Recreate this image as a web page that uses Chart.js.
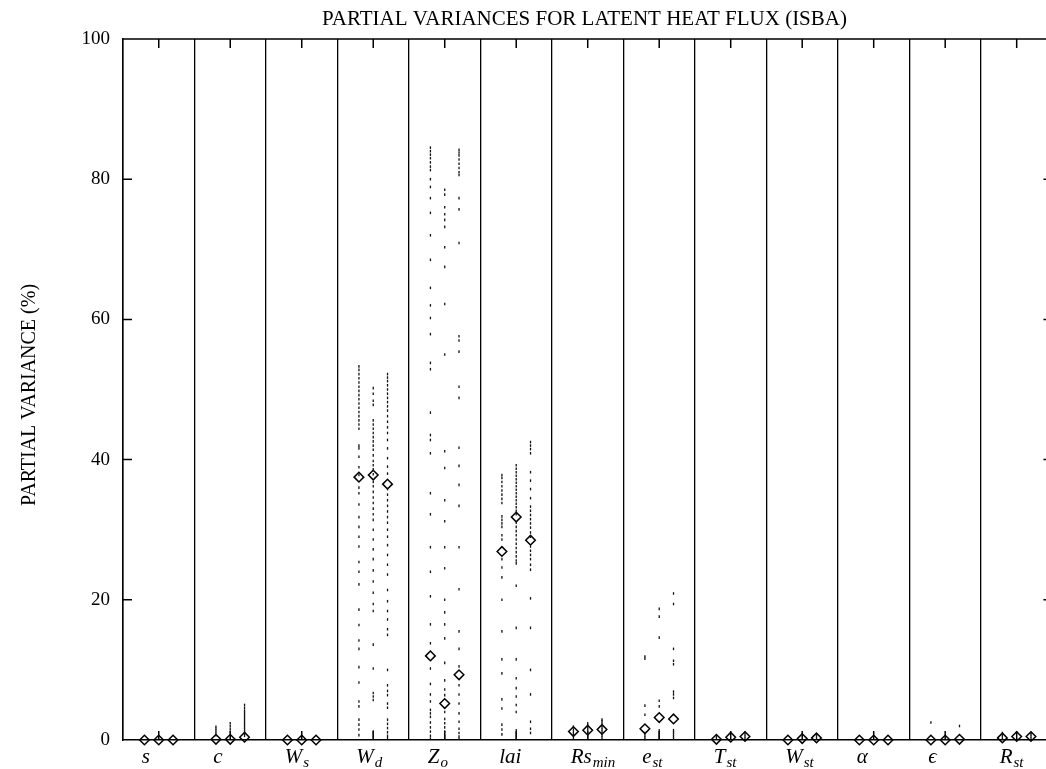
<!DOCTYPE html>
<html>
<head>
<meta charset="utf-8">
<title>Partial variances for latent heat flux (ISBA)</title>
<script src="https://cdn.jsdelivr.net/npm/chart.js@4.4.0/dist/chart.umd.min.js"></script>
<style>
  html, body { margin: 0; padding: 0; background: #fff; }
  #chart { display: block; }
</style>
</head>
<body>
<canvas id="chart" width="1046" height="769"></canvas>
<script>
// Parameter names, split into base symbol and subscript
const paramBase = ['s', 'c', 'W', 'W', 'Z', 'lai', 'Rs', 'e', 'T', 'W', 'α', 'ϵ', 'R'];
const paramSub  = ['', '', 's', 'd', 'o', '', 'min', 'st', 'st', 'st', '', '', 'st'];

// Mean partial variance (%) for the three runs of each parameter (diamonds)
const meanLeft  = [0, 0.1, 0, 37.5, 12.0, 26.9, 1.2, 1.6, 0.1, 0.0, 0, 0, 0.3];
const meanMid   = [0, 0.1, 0, 37.8, 5.2, 31.8, 1.4, 3.2, 0.4, 0.2, 0, 0, 0.5];
const meanRight = [0, 0.4, 0, 36.5, 9.3, 28.5, 1.5, 3.0, 0.5, 0.3, 0, 0.1, 0.5];

// Individual sample values behind each mean (small dots)
const dotsLeft = [
  [],
  [0.7, 1.0, 1.3, 1.6, 1.9],
  [],
  [53.3, 52.8, 52.2, 51.6, 51.0, 50.4, 49.8, 49.2, 48.6, 48.0, 47.4, 46.8, 46.2, 45.6, 45.0, 44.4, 42.0, 41.6, 40.4, 38.9, 37.8, 36.0, 35.2, 33.6, 31.8, 30.4, 29.0, 27.6, 25.4, 24.0, 22.2, 18.6, 16.4, 14.2, 13.0, 10.4, 8.2, 5.5, 4.8, 2.9, 2.2, 1.5, 0.7],
  [84.5, 84.0, 83.5, 83.0, 82.4, 81.8, 81.3, 80.0, 78.9, 77.3, 75.2, 72.0, 68.5, 64.5, 62.0, 60.2, 57.9, 53.8, 52.9, 46.7, 43.5, 42.8, 40.9, 35.2, 32.2, 27.5, 24.0, 20.5, 16.5, 13.8, 10.2, 8.0, 6.5, 5.5, 4.3, 3.8, 3.3, 2.5, 1.8, 1.2, 0.6, 0.2],
  [37.8, 37.4, 36.8, 36.2, 35.6, 35.0, 34.4, 33.8, 31.9, 31.4, 30.9, 30.4, 29.2, 28.6, 25.8, 24.6, 23.2, 20.0, 15.5, 11.5, 9.5, 5.8, 4.5, 2.2, 1.5, 0.8],
  [0.3, 0.6, 0.9, 1.2, 1.5, 1.9],
  [11.9, 11.6, 4.9, 3.6, 1.0, 0.7, 0.4, 0.1],
  [0.2, 0.5],
  [],
  [],
  [2.5],
  [0.2, 0.5, 0.8, 1.0]
];
const dotsMid = [
  [],
  [1.2, 1.6, 2.0, 2.4],
  [],
  [50.2, 49.4, 48.4, 47.8, 45.6, 45.0, 44.4, 43.8, 43.2, 42.6, 42.0, 41.4, 40.6, 39.8, 39.2, 38.6, 37.9, 36.8, 36.2, 35.4, 34.6, 33.8, 33.0, 32.2, 31.4, 30.0, 28.6, 27.2, 25.8, 24.2, 22.6, 21.0, 19.4, 18.4, 13.6, 10.2, 6.7, 6.2, 5.7, 1.2, 0.8, 0.4],
  [78.5, 77.8, 76.0, 75.0, 74.2, 73.2, 70.3, 67.5, 62.2, 55.0, 41.2, 38.8, 34.2, 31.2, 27.5, 24.5, 20.0, 18.2, 16.5, 14.5, 11.0, 8.5, 7.2, 6.4, 4.0, 3.0, 2.4, 1.8, 1.2, 0.6, 0.2],
  [39.2, 38.7, 38.2, 37.7, 37.2, 36.7, 36.2, 35.7, 35.2, 34.7, 34.2, 33.7, 33.2, 32.7, 32.2, 31.0, 30.4, 29.8, 29.2, 28.6, 28.0, 27.4, 26.8, 26.2, 25.6, 25.2, 22.0, 16.0, 11.5, 8.8, 7.4, 6.2, 5.0, 4.0, 1.4, 1.0, 0.6, 0.2],
  [0.3, 0.6, 0.9, 1.2, 1.5, 1.8, 2.1, 2.4],
  [18.7, 17.6, 14.6, 5.6, 4.8, 1.4, 1.1, 0.8, 0.5, 0.2],
  [],
  [],
  [],
  [],
  []
];
const dotsRight = [
  [],
  [0.6, 0.9, 1.2, 1.5, 1.8, 2.1, 2.4, 2.7, 3.0, 3.3, 3.6, 3.9, 4.2, 4.6, 5.0],
  [],
  [52.2, 51.7, 51.2, 50.6, 50.0, 49.4, 48.8, 48.2, 47.6, 47.0, 46.2, 45.4, 44.6, 43.8, 42.8, 41.6, 40.2, 39.0, 38.0, 35.8, 35.0, 34.2, 33.4, 32.6, 31.8, 31.0, 30.0, 29.0, 27.8, 26.4, 25.0, 23.6, 21.4, 19.8, 18.4, 17.2, 15.8, 15.0, 10.0, 7.8, 7.0, 6.4, 5.2, 4.6, 2.9, 2.3, 1.7, 1.1, 0.6, 0.3],
  [84.2, 83.8, 83.4, 82.8, 82.2, 81.6, 81.0, 80.6, 77.3, 75.7, 70.9, 57.6, 57.0, 55.4, 50.4, 48.8, 41.7, 39.1, 36.4, 33.4, 27.5, 21.5, 15.5, 13.0, 10.5, 7.8, 6.5, 5.2, 3.8, 2.6, 1.6, 1.0, 0.5, 0.2],
  [42.5, 42.0, 41.5, 40.9, 38.2, 37.0, 35.8, 34.5, 33.3, 32.7, 32.1, 31.5, 30.9, 30.3, 29.6, 29.0, 27.6, 27.0, 26.4, 25.8, 25.0, 24.3, 20.2, 16.0, 10.0, 6.5, 2.6, 1.6, 1.0],
  [0.3, 0.6, 0.9, 1.2, 1.5, 1.8, 2.1, 2.4, 2.7, 2.9],
  [20.9, 19.4, 13.0, 11.3, 10.8, 6.9, 6.5, 6.0, 1.4, 1.1, 0.8, 0.5, 0.2],
  [0.2, 0.5, 0.8, 1.1],
  [0.2, 0.5, 0.8],
  [],
  [2.0],
  [0.2, 0.5, 0.8, 1.0]
];

const yTicks = [0, 20, 40, 60, 80, 100];
const chartTitle = 'PARTIAL VARIANCES FOR LATENT HEAT FLUX (ISBA)';
const yTitle = 'PARTIAL VARIANCE (%)';

// the three runs sit at 0.3, 0.5 and 0.7 of each parameter's panel
const COL_OFFSET = [0.3, 0.5, 0.7];
const SERIF = '"Liberation Serif", "Times New Roman", serif';

function columnPoints(lists, offset) {
  const pts = [];
  lists.forEach((vals, i) => vals.forEach(v => pts.push({ x: i + offset, y: v })));
  return pts;
}

const samplePoints = [
  ...columnPoints(dotsLeft, COL_OFFSET[0]),
  ...columnPoints(dotsMid, COL_OFFSET[1]),
  ...columnPoints(dotsRight, COL_OFFSET[2])
];
const meanPoints = [
  ...meanLeft.map((v, i) => ({ x: i + COL_OFFSET[0], y: v })),
  ...meanMid.map((v, i) => ({ x: i + COL_OFFSET[1], y: v })),
  ...meanRight.map((v, i) => ({ x: i + COL_OFFSET[2], y: v }))
];

// Frame, inward tick marks, panel names and titles
const framePlugin = {
  id: 'frame',
  beforeDatasetsDraw(chart) {
    const { ctx, chartArea: a, scales: { x, y } } = chart;
    const tl = 9;
    const xEnd = x.getPixelForValue(paramBase.length);
    ctx.save();
    ctx.strokeStyle = '#000';
    ctx.lineWidth = 1.5;
    ctx.beginPath();
    ctx.moveTo(a.left, a.top);
    ctx.lineTo(a.right, a.top);
    yTicks.slice(1, -1).forEach(v => {
      const py = y.getPixelForValue(v);
      ctx.moveTo(a.left, py); ctx.lineTo(a.left + tl, py);
      ctx.moveTo(xEnd, py); ctx.lineTo(xEnd - tl, py);
    });
    paramBase.forEach((_, i) => {
      const px = x.getPixelForValue(i + 0.5);
      ctx.moveTo(px, a.top); ctx.lineTo(px, a.top + tl);
      ctx.moveTo(px, a.bottom); ctx.lineTo(px, a.bottom - tl);
    });
    ctx.stroke();
    ctx.restore();
  },
  afterDraw(chart) {
    const { ctx, chartArea: a, scales: { x } } = chart;
    ctx.save();
    ctx.fillStyle = '#000';

    ctx.font = '21px ' + SERIF;
    ctx.textAlign = 'center';
    ctx.textBaseline = 'alphabetic';
    ctx.fillText(chartTitle, (a.left + a.right) / 2, 25);

    ctx.save();
    ctx.translate(30, 395);
    ctx.rotate(-Math.PI / 2);
    ctx.font = '20px ' + SERIF;
    ctx.textBaseline = 'middle';
    ctx.fillText(yTitle, 0, 0);
    ctx.restore();

    // panel names in math italic, left-aligned a little before the panel centre
    ctx.textAlign = 'left';
    const baseFont = 'italic 21px ' + SERIF;
    const subFont = 'italic 15px ' + SERIF;
    paramBase.forEach((b, i) => {
      const start = x.getPixelForValue(i + 0.5) - 17;
      ctx.font = baseFont;
      ctx.fillText(b, start, 763);
      if (paramSub[i]) {
        const wb = ctx.measureText(b).width;
        ctx.font = subFont;
        ctx.fillText(paramSub[i], start + wb + 1, 767);
      }
    });
    ctx.restore();
  }
};

new Chart(document.getElementById('chart'), {
  type: 'scatter',
  data: {
    datasets: [
      {
        label: 'Samples',
        data: samplePoints,
        pointStyle: 'line',
        rotation: 90,
        pointRadius: 1.3,
        borderColor: '#111',
        borderWidth: 1.3,
        clip: false
      },
      {
        label: 'Mean',
        data: meanPoints,
        pointStyle: 'rectRot',
        pointRadius: 4.8,
        borderColor: '#000',
        borderWidth: 1.5,
        backgroundColor: 'rgba(255,255,255,0)',
        clip: false
      }
    ]
  },
  options: {
    responsive: false,
    animation: false,
    events: [],
    layout: { autoPadding: false, padding: { top: 39, left: 0, right: 0, bottom: 0 } },
    plugins: { legend: { display: false }, tooltip: { enabled: false }, title: { display: false } },
    scales: {
      x: {
        type: 'linear',
        min: 0,
        max: 12.91,
        afterBuildTicks: s => { s.ticks = paramBase.map((_, i) => ({ value: i })); },
        afterFit: s => { s.height = 29; },
        ticks: { display: false },
        grid: { color: '#000', lineWidth: 1.3, drawTicks: false },
        border: { display: true, color: '#000', width: 1.5 }
      },
      y: {
        min: 0,
        max: 100,
        afterFit: s => { s.width = 123; },
        ticks: {
          stepSize: 20,
          color: '#000',
          font: { family: SERIF, size: 19 },
          padding: 13
        },
        grid: { display: false, drawTicks: false },
        border: { display: true, color: '#000', width: 1.5 }
      }
    }
  },
  plugins: [framePlugin]
});
</script>
</body>
</html>
